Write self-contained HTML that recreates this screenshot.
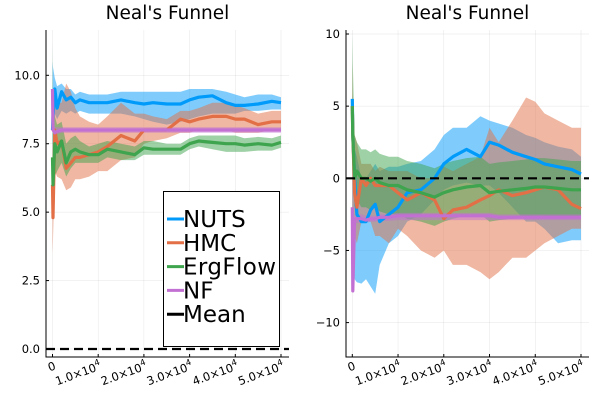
<!DOCTYPE html>
<html><head><meta charset="utf-8"><style>
body{margin:0;background:#fff;font-family:"Liberation Sans","DejaVu Sans",sans-serif}
svg text{font-family:"DejaVu Sans","Liberation Sans",sans-serif}
</style></head><body>
<svg id="c" width="600" height="400" xmlns="http://www.w3.org/2000/svg"></svg>
<script>
const xs=[0,0.1,0.5,1,2,3,4,5,6,8,10,12,15,18,20,22,25,28,30,32,35,38,40,42,45,48,50];
// Left panel (units of 1e3 iterations)
const L_nuts=[8.0,8.5,9.5,8.8,9.4,9.1,9.2,9.0,9.1,9.0,9.0,9.0,9.1,9.0,8.95,9.0,8.95,8.95,9.1,9.2,9.25,9.0,8.9,8.9,8.95,9.05,9.0];
const L_nuts_lo=[6.5,7.5,8.6,8.4,8.7,8.6,8.7,8.6,8.7,8.6,8.6,8.6,8.6,8.5,8.4,8.3,8.2,8.3,8.4,8.5,8.6,8.6,8.6,8.7,8.7,8.75,8.75];
const L_nuts_hi=[10.5,10.3,9.9,9.6,9.7,9.5,9.5,9.3,9.4,9.3,9.3,9.3,9.4,9.4,9.4,9.4,9.4,9.4,9.5,9.5,9.5,9.4,9.3,9.2,9.3,9.3,9.2];
const L_hmc=[6.0,4.8,8.0,7.5,7.6,6.6,6.8,7.0,7.0,7.1,7.2,7.4,7.8,7.6,8.0,8.0,8.0,8.4,8.3,8.4,8.5,8.5,8.4,8.4,8.2,8.3,8.3];
const L_hmc_lo=[3.5,4.0,6.5,6.3,6.2,5.8,5.9,6.2,6.2,6.3,6.5,6.5,6.9,7.0,7.5,7.6,7.7,7.9,7.9,8.0,8.0,8.0,7.9,7.9,7.9,8.0,8.0];
const L_hmc_hi=[8.0,6.5,9.3,9.0,9.0,9.7,9.4,8.8,8.5,8.3,8.2,8.5,9.0,8.6,8.6,8.5,8.4,8.7,8.7,8.8,9.0,9.0,8.9,8.8,8.6,8.7,8.7];
const L_erg=[7.0,6.0,7.5,7.2,7.6,6.8,7.2,7.3,7.2,7.1,7.1,7.3,7.2,7.1,7.35,7.3,7.3,7.3,7.5,7.6,7.55,7.5,7.5,7.45,7.5,7.45,7.55];
const L_erg_lo=[5.0,4.8,6.3,6.5,6.8,6.3,6.6,6.8,6.8,6.8,6.8,7.0,6.9,6.9,7.1,7.1,7.1,7.1,7.3,7.4,7.3,7.2,7.2,7.2,7.25,7.25,7.35];
const L_erg_hi=[11.2,9.0,8.5,8.2,8.3,7.5,7.7,7.8,7.6,7.4,7.5,7.6,7.5,7.4,7.6,7.6,7.5,7.5,7.7,7.8,7.8,7.8,7.8,7.7,7.75,7.7,7.8];
const L_nf=[9.5,8.0,7.9,7.95,8.0,8.0,8.0,8.0,8.0,8.0,8.0,8.0,8.0,8.0,8.0,8.0,8.0,8.0,8.0,8.0,8.0,8.0,8.0,8.0,8.0,8.0,8.0];
const L_nf_lo=[9.3,7.8,7.8,7.85,7.9,7.9,7.9,7.9,7.9,7.9,7.9,7.9,7.9,7.9,7.9,7.9,7.9,7.9,7.9,7.9,7.9,7.9,7.9,7.9,7.9,7.9,7.9];
const L_nf_hi=[9.7,8.2,8.1,8.1,8.1,8.1,8.1,8.1,8.1,8.1,8.1,8.1,8.1,8.1,8.1,8.1,8.1,8.1,8.1,8.1,8.1,8.1,8.1,8.1,8.1,8.1,8.1];
// Right panel
const R_nuts=[5.5,3.0,0,-2.5,-3,-3,-2.2,-1.8,-3,-2.5,-2,-1,-0.8,0,1,1.5,2,1.5,2.5,2.3,1.8,1.5,1.3,1,0.8,0.6,0.3];
const R_nuts_lo=[-2,-5,-7,-7.2,-7.3,-7,-7.5,-8,-6,-4.5,-4,-3,-2.5,-1.5,-0.8,-0.5,-0.3,-0.5,-0.5,-1,-2,-3,-3,-3.5,-4.5,-4.3,-4.3];
const R_nuts_hi=[5.8,4,2,1.5,0,0,0.5,1,0.5,0.8,0.8,1,1.2,2,3,3.5,3.5,4.3,4,3.8,3.5,3,2.8,2.5,2.2,2,1.5];
const R_hmc=[5,3,-1,-2,0,-0.5,0,-0.5,-0.5,-0.5,-1,-1.5,-1,-1.5,-2.8,-2.2,-2,-1.5,-1.2,-0.8,-1.2,-1.0,-0.8,-0.6,-0.8,-1.8,-2.1];
const R_hmc_lo=[-2,-3,-4,-4.5,-3,-3,-3,-4,-4,-4.5,-3.5,-4,-5,-5.5,-5,-6,-6,-6.5,-7,-6.5,-5.5,-5.5,-5,-4.5,-4,-3.5,-3.5];
const R_hmc_hi=[8,6,3,2.5,1,1,1,0.5,0.8,0.5,0.5,0.5,0,0,0.8,0.5,1,1.5,3.5,2.5,4,5.6,5.3,4.5,4,3.5,3.5];
const R_erg=[5,3,0,0.5,0,0,-0.2,0,-0.3,-0.5,-0.5,-0.8,-1,-1.3,-1,-0.8,-0.6,-0.5,-1,-0.9,-0.8,-0.7,-0.6,-0.6,-0.7,-0.8,-0.8];
const R_erg_lo=[2,0,-2,-1.5,-2,-2,-2.2,-2,-2.3,-2.5,-2.5,-2.8,-3,-3.3,-3,-2.8,-2.6,-2.5,-3,-2.9,-2.8,-2.7,-2.6,-2.6,-2.7,-2.8,-2.8];
const R_erg_hi=[10,8,3,2.5,2,2,1.8,2,1.7,1.5,1.5,1.2,1,0.7,1,1.2,1.4,1.5,1,1.1,1.2,1.3,1.4,1.4,1.3,1.2,1.2];
const R_nf=[-2,-7.8,-2.8,-2.8,-2.8,-2.9,-2.8,-2.8,-2.7,-2.7,-2.6,-2.6,-2.6,-2.6,-2.6,-2.6,-2.6,-2.6,-2.6,-2.7,-2.7,-2.7,-2.7,-2.7,-2.7,-2.7,-2.7];
const R_nf_lo=[-2.2,-8,-3.1,-3.1,-3.1,-3.1,-3.0,-3.0,-2.95,-2.95,-2.9,-2.9,-2.9,-2.9,-2.9,-2.9,-2.9,-2.9,-2.9,-2.9,-2.9,-2.9,-2.9,-2.9,-2.9,-2.9,-2.9];
const R_nf_hi=[-1.8,-7.6,-2.5,-2.5,-2.5,-2.6,-2.6,-2.6,-2.5,-2.5,-2.4,-2.4,-2.4,-2.4,-2.4,-2.4,-2.4,-2.4,-2.4,-2.5,-2.5,-2.5,-2.5,-2.5,-2.5,-2.5,-2.5];
const xTicks=[0,10,20,30,40,50];
const xTickLabels=["0","1.0","2.0","3.0","4.0","5.0"];
const L_yTicks=[0,2.5,5,7.5,10];
const L_yLabels=["0.0","2.5","5.0","7.5","10.0"];
const R_yTicks=[-10,-5,0,5,10];
const R_yLabels=["−10","−5","0","5","10"];
const colors=["#009AFA","#E26F46","#3EA44E","#C271D2"];
const names=["NUTS","HMC","ErgFlow","NF"];

const svg=document.getElementById('c');
const NS="http://www.w3.org/2000/svg";
function mk(tag,attrs,parent){const e=document.createElementNS(NS,tag);for(const k in attrs)e.setAttribute(k,attrs[k]);(parent||svg).appendChild(e);return e;}

function panel(p){
  const g=mk('g',{});
  
  
  const sx=v=>p.x0+(v-0)*(p.x1-p.x0)/50;
  const sy=v=>p.y0+(v-p.v0)*(p.y1-p.y0)/(p.v1-p.v0);
  xTicks.forEach(t=>{const l=mk('line',{x1:sx(t),x2:sx(t),y1:p.top,y2:p.bot,stroke:'#000','stroke-opacity':0.1,'stroke-width':0.5},g);});
  p.yt.forEach(t=>{const l=mk('line',{x1:p.left,x2:p.right,y1:sy(t),y2:sy(t),stroke:'#000','stroke-opacity':0.1,'stroke-width':0.5},g);});
  p.series.forEach((s,i)=>{
    let d='M'+xs.map((x,j)=>sx(x).toFixed(1)+','+sy(s.hi[j]).toFixed(1)).join('L');
    for(let j=xs.length-1;j>=0;j--)d+='L'+sx(xs[j]).toFixed(1)+','+sy(s.lo[j]).toFixed(1);
    const b=mk('path',{d:d+'Z',fill:colors[i],'fill-opacity':0.5,stroke:'none'},g);
    
    
  });
  p.series.forEach((s,i)=>{
    const l=mk('polyline',{points:xs.map((x,j)=>sx(x).toFixed(1)+','+sy(s.m[j]).toFixed(1)).join(' '),fill:'none',stroke:colors[i],'stroke-width':3.2,'stroke-linejoin':'round'},g);
    
    
  });
  const m=mk('line',{x1:p.left,x2:p.right,y1:sy(0),y2:sy(0),stroke:'#000','stroke-width':2.2,'stroke-dasharray':'9,5'},g);
  
  
  const ax=mk('path',{d:`M${p.left},${p.top}V${p.bot}H${p.right}`,fill:'none',stroke:'#000','stroke-width':1},g);
  
  
  xTicks.forEach((t,i)=>{
    mk('line',{x1:sx(t),x2:sx(t),y1:p.bot,y2:p.bot-3,stroke:'#000'},g);
    const tx=mk('text',{x:sx(t)+4,y:369,'font-size':11.5,'text-anchor':'end',transform:`rotate(-20 ${sx(t)+4} 369)`},g);
    
    
    if(i===0){tx.textContent='0';}
    else{tx.textContent=xTickLabels[i]+'×10';const sp=mk('tspan',{dy:-5,'font-size':8.5},tx);sp.textContent='4';}
  });
  p.yt.forEach((t,i)=>{
    mk('line',{x1:p.left,x2:p.left+3,y1:sy(t),y2:sy(t),stroke:'#000'},g);
    const tx=mk('text',{x:p.left-6,y:sy(t)+4,'font-size':11.5,'text-anchor':'end'},g);
    tx.textContent=p.yl[i];
    
    
  });
  const ti=mk('text',{x:(p.left+p.right)/2,y:19,'font-size':18.5,'text-anchor':'middle'},g);
  ti.textContent="Neal's Funnel";
  
  
}
panel({name:'left-panel',left:46,right:289,top:30,bot:357,x0:52.5,x1:281,v0:0,v1:10,y0:349,y1:75.3,yt:L_yTicks,yl:L_yLabels,
 series:[{m:L_nuts,lo:L_nuts_lo,hi:L_nuts_hi},{m:L_hmc,lo:L_hmc_lo,hi:L_hmc_hi},{m:L_erg,lo:L_erg_lo,hi:L_erg_hi},{m:L_nf,lo:L_nf_lo,hi:L_nf_hi}]});
panel({name:'right-panel',left:346,right:589,top:30,bot:357,x0:352.3,x1:581,v0:0,v1:10,y0:178.3,y1:34,yt:R_yTicks,yl:R_yLabels,
 series:[{m:R_nuts,lo:R_nuts_lo,hi:R_nuts_hi},{m:R_hmc,lo:R_hmc_lo,hi:R_hmc_hi},{m:R_erg,lo:R_erg_lo,hi:R_erg_hi},{m:R_nf,lo:R_nf_lo,hi:R_nf_hi}]});
const lg=mk('g',{});


mk('rect',{x:163.5,y:191.5,width:116,height:155,fill:'#fff',stroke:'#000','stroke-width':1},lg);
const lnames=names.concat(['Mean']);const lcol=colors.concat(['#000']);
lnames.forEach((n,i)=>{
  const y=219+i*23.8;
  const e=mk('g',{},lg);
  
  
  mk('line',{x1:167,x2:184,y1:y,y2:y,stroke:lcol[i],'stroke-width':3},e);
  const t=mk('text',{x:183,y:y+8,'font-size':23,textLength:n==='ErgFlow'?93:null},e);
  if(n!=='ErgFlow')t.removeAttribute('textLength');
  t.textContent=n;
});
</script>
</body></html>
